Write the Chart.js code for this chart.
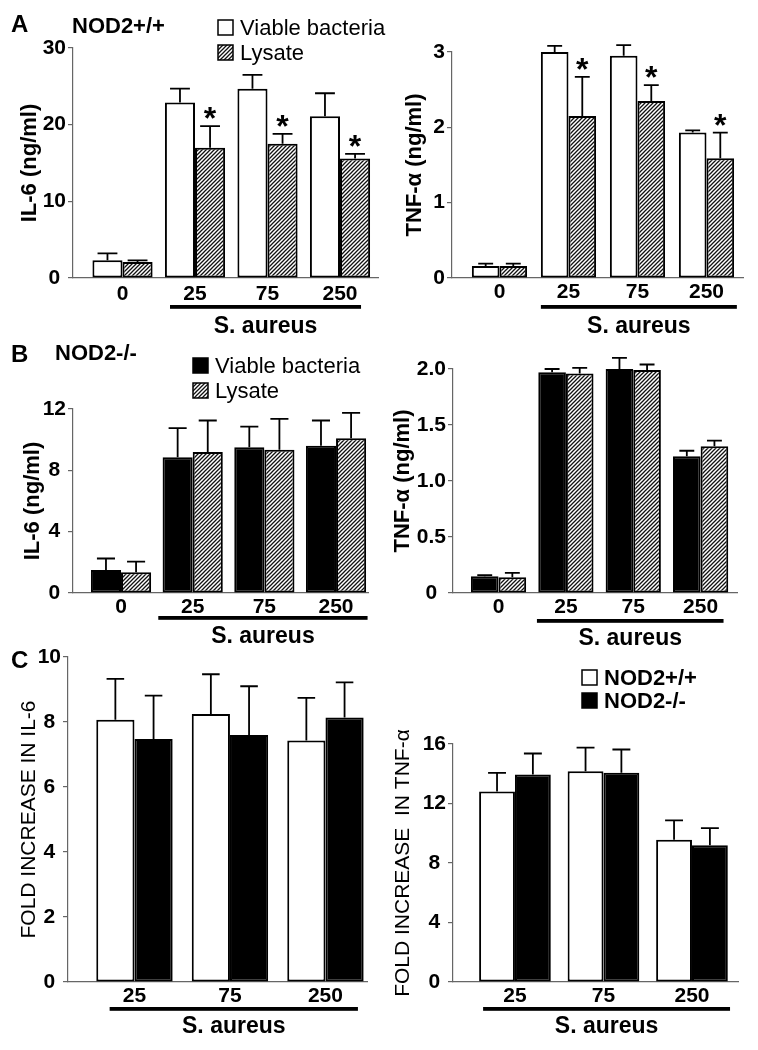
<!DOCTYPE html>
<html><head><meta charset="utf-8">
<script src="https://cdn.jsdelivr.net/npm/chart.js@4/dist/chart.umd.min.js"></script>
<style>
html,body{margin:0;padding:0;background:#fff;}
body{width:758px;height:1050px;position:relative;overflow:hidden;}
canvas{position:absolute;}
</style></head><body>
<canvas id="aL"></canvas>
<canvas id="aR"></canvas>
<canvas id="bL"></canvas>
<canvas id="bR"></canvas>
<canvas id="cL"></canvas>
<canvas id="cR"></canvas>
<script>
// ---------- data ----------
const doses = ['0', '25', '75', '250'];
const dosesFold = ['25', '75', '250'];

// A: NOD2+/+
const il6WtViable = [2.3, 22.9, 24.7, 21.1];
const il6WtViableErr = [0.9, 1.8, 1.8, 3.0];
const il6WtLysate = [2.1, 17.0, 17.5, 15.6];
const il6WtLysateErr = [0.2, 2.8, 1.3, 0.6];
const il6WtStars = [false, true, true, true];

const tnfWtViable = [0.16, 3.0, 2.95, 1.93];
const tnfWtViableErr = [0.03, 0.08, 0.14, 0.03];
const tnfWtLysate = [0.16, 2.15, 2.35, 1.59];
const tnfWtLysateErr = [0.03, 0.52, 0.21, 0.34];
const tnfWtStars = [false, true, true, true];

// B: NOD2-/-
const il6KoViable = [1.5, 8.85, 9.5, 9.6];
const il6KoViableErr = [0.75, 1.9, 1.35, 1.65];
const il6KoLysate = [1.35, 9.2, 9.35, 10.1];
const il6KoLysateErr = [0.7, 2.05, 2.0, 1.65];

const tnfKoViable = [0.15, 1.97, 2.0, 1.22];
const tnfKoViableErr = [0.01, 0.03, 0.1, 0.05];
const tnfKoLysate = [0.14, 1.96, 1.99, 1.31];
const tnfKoLysateErr = [0.04, 0.05, 0.05, 0.05];

// C: fold increase
const foldIl6Wt = [8.07, 8.25, 7.43];
const foldIl6WtErr = [1.26, 1.22, 1.31];
const foldIl6Ko = [7.48, 7.6, 8.14];
const foldIl6KoErr = [1.33, 1.5, 1.08];

const foldTnfWt = [12.8, 14.17, 9.57];
const foldTnfWtErr = [1.26, 1.59, 1.3];
const foldTnfKo = [13.95, 14.06, 9.19];
const foldTnfKoErr = [1.41, 1.57, 1.15];

// ---------- styling ----------
const FONT = "'Liberation Sans', Arial, Helvetica, sans-serif";
Chart.defaults.font.family = FONT;
Chart.defaults.color = '#000';
const AX = '#666';
const XH = 40;
const TICK_SIZE = 21;

function makeHatch() {
  const s = 4;
  const c = document.createElement('canvas'); c.width = s; c.height = s;
  const g = c.getContext('2d');
  g.fillStyle = '#fff'; g.fillRect(0, 0, s, s);
  g.strokeStyle = '#111'; g.lineWidth = 1.3;
  g.beginPath();
  g.moveTo(0, s); g.lineTo(s, 0);
  g.moveTo(-1, 1); g.lineTo(1, -1);
  g.moveTo(s - 1, s + 1); g.lineTo(s + 1, s - 1);
  g.stroke();
  return g.createPattern(c, 'repeat');
}
const HATCH = makeHatch();
const FILLS = { white: '#fff', black: '#000', hatch: HATCH };

function decoPlugin(P) {
  return {
    id: 'deco_' + P.id,
    afterDatasetsDraw(chart) {
      const ctx = chart.ctx, y = chart.scales.y;
      chart.data.datasets.forEach((ds, di) => {
        const meta = chart.getDatasetMeta(di);
        meta.data.forEach((bar, i) => {
          const top = y.getPixelForValue(ds.data[i] + ds.errors[i]);
          const cap = bar.width * P.cap;
          ctx.save();
          ctx.strokeStyle = '#000'; ctx.lineWidth = 1.8;
          ctx.beginPath();
          ctx.moveTo(bar.x, bar.y); ctx.lineTo(bar.x, top);
          ctx.moveTo(bar.x - cap, top); ctx.lineTo(bar.x + cap, top);
          ctx.stroke();
          if (ds.stars && ds.stars[i]) {
            ctx.fillStyle = '#000';
            ctx.font = 'bold 32px ' + FONT;
            ctx.textAlign = 'center'; ctx.textBaseline = 'alphabetic';
            ctx.fillText('*', bar.x, top + 3);
          }
          ctx.restore();
        });
      });
    },
    afterDraw(chart) {
      const ctx = chart.ctx, x = chart.scales.x, base = chart.chartArea.bottom;
      ctx.save();
      // S. aureus bracket
      const x1 = x.getPixelForValue(P.bracket[0]), x2 = x.getPixelForValue(P.bracket[1]);
      ctx.fillStyle = '#000';
      ctx.fillRect(x1, base + P.lineDy - 2, x2 - x1, 3.8);
      ctx.font = 'bold 23px ' + FONT;
      ctx.textAlign = 'center'; ctx.textBaseline = 'alphabetic';
      ctx.fillText('S. aureus', (x1 + x2) / 2, base + P.textDy);
      // panel labels
      ctx.textAlign = 'left';
      (P.labels || []).forEach(l => {
        ctx.font = l.font + ' ' + FONT;
        ctx.fillText(l.text, l.x - P.cx, l.y - P.cy);
      });
      // legend
      (P.legend || []).forEach(it => {
        const bx = it.x - P.cx, by = it.y - P.cy;
        ctx.fillStyle = FILLS[it.fill];
        ctx.fillRect(bx, by, 15, 15);
        ctx.strokeStyle = '#000'; ctx.lineWidth = 1.5;
        ctx.strokeRect(bx, by, 15, 15);
        ctx.fillStyle = '#000';
        ctx.font = it.font + ' ' + FONT;
        ctx.fillText(it.text, bx + 22, by + 15);
      });
      ctx.restore();
    }
  };
}

function makeChart(P) {
  const el = document.getElementById(P.id);
  el.style.left = P.cx + 'px'; el.style.top = P.cy + 'px';
  el.width = P.cw; el.height = P.ch;
  const lh = P.titleSize * 1.2;
  const scaleLeft = P.tx - lh / 2;
  const yW = P.L - scaleLeft;
  return new Chart(el, {
    type: 'bar',
    data: {
      labels: P.cats.map((_, i) => i),
      datasets: P.series.map(s => ({
        label: s.label,
        data: s.values, errors: s.errors, stars: s.stars,
        backgroundColor: FILLS[s.fill], borderColor: '#000', borderWidth: 2,
        borderSkipped: false, categoryPercentage: P.catPct, barPercentage: 1
      }))
    },
    options: {
      responsive: false, animation: false, events: [],
      layout: { padding: {
        left: scaleLeft - P.cx, top: P.T - P.cy,
        right: P.cx + P.cw - P.R, bottom: P.cy + P.ch - P.B - XH } },
      plugins: { legend: { display: false }, tooltip: { enabled: false } },
      scales: {
        x: {
          type: 'linear', offset: false, bounds: 'data', min: P.xmin, max: P.xmax,
          afterBuildTicks: s => { s.ticks = P.cats.map((_, i) => ({ value: i })); },
          afterFit: s => { s.height = XH; },
          grid: { display: false, drawTicks: false, offset: false },
          border: { display: true, color: AX, width: 1.2 },
          ticks: { autoSkip: false, maxRotation: 0, padding: P.xpad, color: '#000',
                   font: { size: TICK_SIZE, weight: 'bold' }, callback: v => P.cats[v] }
        },
        y: {
          min: 0, max: P.ymax,
          afterFit: s => { s.width = yW; },
          grid: { display: true, drawOnChartArea: false, drawTicks: true, tickLength: 5, color: AX, lineWidth: 1.2 },
          border: { display: true, color: AX, width: 1.2 },
          ticks: { stepSize: P.step, padding: 2, crossAlign: 'center', color: '#000',
                   font: { size: TICK_SIZE, weight: 'bold' }, callback: P.yfmt || (v => v) },
          title: { display: true, text: P.title, padding: 0, color: '#000',
                   font: { size: P.titleSize, weight: P.titleWeight } }
        }
      }
    },
    plugins: [decoPlugin(P)]
  });
}

// ---------- panels ----------
makeChart({
  id: 'aL', cx: 0, cy: 0, cw: 420, ch: 340, L: 73, R: 378, T: 48, B: 278,
  xmin: -0.683, xmax: 3.524, catPct: 0.83, ymax: 30, step: 10, xpad: 4, cap: 0.33,
  tx: 30, title: 'IL-6 (ng/ml)', titleSize: 22, titleWeight: 'bold',
  bracket: [0.655, 3.29], lineDy: 29, textDy: 55, cats: doses,
  series: [
    { label: 'Viable bacteria', values: il6WtViable, errors: il6WtViableErr, fill: 'white' },
    { label: 'Lysate', values: il6WtLysate, errors: il6WtLysateErr, fill: 'hatch', stars: il6WtStars }
  ],
  labels: [ { text: 'A', x: 11, y: 32, font: 'bold 24px' }, { text: 'NOD2+/+', x: 72, y: 33, font: 'bold 22px' } ],
  legend: [ { x: 218, y: 20, fill: 'white', text: 'Viable bacteria', font: '22px' },
            { x: 218, y: 45, fill: 'hatch', text: 'Lysate', font: '22px' } ]
});

makeChart({
  id: 'aR', cx: 380, cy: 0, cw: 378, ch: 340, L: 452, R: 743, T: 52, B: 278,
  xmin: -0.688, xmax: 3.529, catPct: 0.80, ymax: 3, step: 1, xpad: 2, cap: 0.27,
  tx: 415, title: 'TNF-α (ng/ml)', titleSize: 22, titleWeight: 'bold',
  bracket: [0.60, 3.44], lineDy: 29, textDy: 55, cats: doses,
  series: [
    { label: 'Viable bacteria', values: tnfWtViable, errors: tnfWtViableErr, fill: 'white' },
    { label: 'Lysate', values: tnfWtLysate, errors: tnfWtLysateErr, fill: 'hatch', stars: tnfWtStars }
  ]
});

makeChart({
  id: 'bL', cx: 0, cy: 340, cw: 420, ch: 310, L: 73, R: 368, T: 409, B: 593,
  xmin: -0.67, xmax: 3.446, catPct: 0.84, ymax: 12, step: 4, xpad: 2, cap: 0.3,
  tx: 33, title: 'IL-6 (ng/ml)', titleSize: 22, titleWeight: 'bold',
  bracket: [0.52, 3.44], lineDy: 25, textDy: 50, cats: doses,
  series: [
    { label: 'Viable bacteria', values: il6KoViable, errors: il6KoViableErr, fill: 'black' },
    { label: 'Lysate', values: il6KoLysate, errors: il6KoLysateErr, fill: 'hatch' }
  ],
  labels: [ { text: 'B', x: 11, y: 362, font: 'bold 24px' }, { text: 'NOD2-/-', x: 55, y: 360, font: 'bold 22px' } ],
  legend: [ { x: 193, y: 358, fill: 'black', text: 'Viable bacteria', font: '22px' },
            { x: 193, y: 383, fill: 'hatch', text: 'Lysate', font: '22px' } ]
});

makeChart({
  id: 'bR', cx: 380, cy: 340, cw: 378, ch: 310, L: 453, R: 737, T: 369, B: 593,
  xmin: -0.676, xmax: 3.54, catPct: 0.82, ymax: 2, step: 0.5, xpad: 2, cap: 0.27,
  yfmt: v => (v === 0 ? '0' : v.toFixed(1)),
  tx: 403, title: 'TNF-α (ng/ml)', titleSize: 22, titleWeight: 'bold',
  bracket: [0.57, 3.34], lineDy: 28, textDy: 52, cats: doses,
  series: [
    { label: 'Viable bacteria', values: tnfKoViable, errors: tnfKoViableErr, fill: 'black' },
    { label: 'Lysate', values: tnfKoLysate, errors: tnfKoLysateErr, fill: 'hatch' }
  ]
});

makeChart({
  id: 'cL', cx: 0, cy: 620, cw: 420, ch: 430, L: 68, R: 367, T: 657, B: 982,
  xmin: -0.696, xmax: 2.435, catPct: 0.80, ymax: 10, step: 2, xpad: 2, cap: 0.23,
  tx: 29, title: 'FOLD INCREASE IN IL-6', titleSize: 21, titleWeight: 'normal',
  bracket: [-0.26, 2.34], lineDy: 27, textDy: 51, cats: dosesFold,
  series: [
    { label: 'NOD2+/+', values: foldIl6Wt, errors: foldIl6WtErr, fill: 'white' },
    { label: 'NOD2-/-', values: foldIl6Ko, errors: foldIl6KoErr, fill: 'black' }
  ],
  labels: [ { text: 'C', x: 11, y: 668, font: 'bold 24px' } ]
});

makeChart({
  id: 'cR', cx: 380, cy: 620, cw: 378, ch: 430, L: 453, R: 738, T: 744, B: 982,
  xmin: -0.70, xmax: 2.52, catPct: 0.81, ymax: 16, step: 4, xpad: 2, cap: 0.25,
  tx: 403, title: 'FOLD INCREASE  IN TNF-α', titleSize: 21, titleWeight: 'normal',
  bracket: [-0.36, 2.43], lineDy: 27, textDy: 51, cats: dosesFold,
  series: [
    { label: 'NOD2+/+', values: foldTnfWt, errors: foldTnfWtErr, fill: 'white' },
    { label: 'NOD2-/-', values: foldTnfKo, errors: foldTnfKoErr, fill: 'black' }
  ],
  legend: [ { x: 582, y: 670, fill: 'white', text: 'NOD2+/+', font: 'bold 22px' },
            { x: 582, y: 693, fill: 'black', text: 'NOD2-/-', font: 'bold 22px' } ]
});
</script>
</body></html>
